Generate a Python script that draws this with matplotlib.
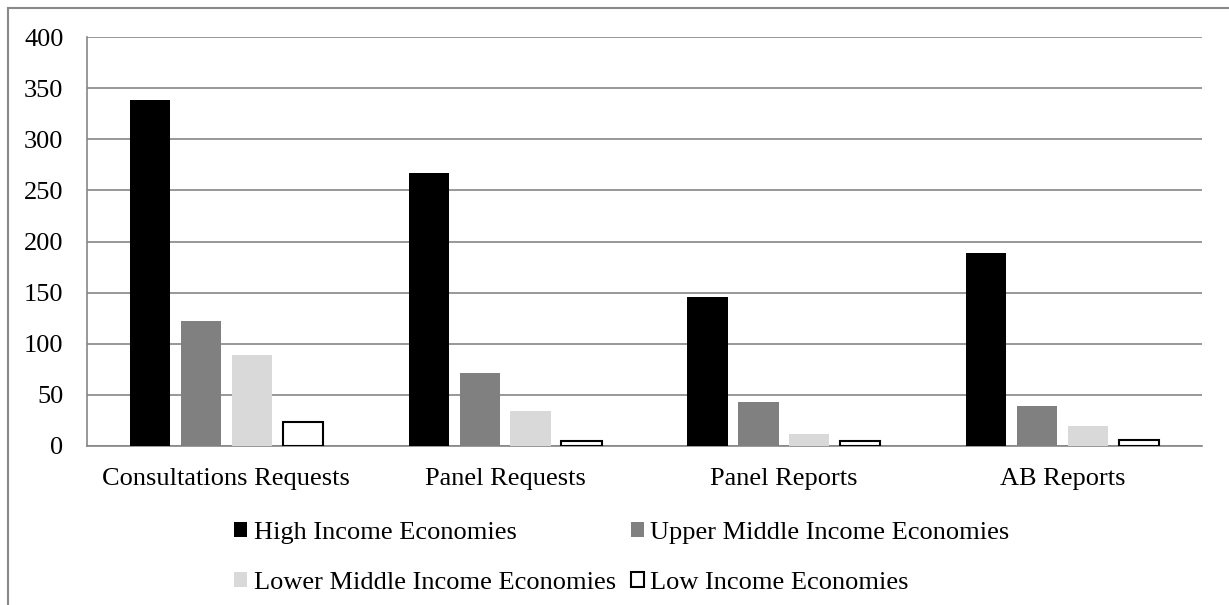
import matplotlib
matplotlib.use("Agg")
import matplotlib.pyplot as plt
from matplotlib.lines import Line2D
import numpy as np

categories = ["Consultations Requests", "Panel Requests", "Panel Reports", "AB Reports"]
series_names = ["High Income Economies", "Upper Middle Income Economies",
                "Lower Middle Income Economies", "Low Income Economies"]
high = [338, 267, 146, 189]
upper_middle = [122, 71, 43, 39]
lower_middle = [89, 34, 12, 20]
low = [23, 5, 5, 6]
y_ticks = [0, 50, 100, 150, 200, 250, 300, 350, 400]

series = [high, upper_middle, lower_middle, low]
faces = ["#000000", "#808080", "#d9d9d9", "#ffffff"]
edges = ["#000000", "#808080", "#d9d9d9", "#000000"]
lws = [0, 0, 0, 1.5]

plt.rcParams['font.family'] = ['Liberation Serif', 'DejaVu Serif']
FS = 19

W, H = 1229, 605
fig = plt.figure(figsize=(W / 100, H / 100), dpi=100)
ax = fig.add_axes([87 / W, 1 - 446 / H, (1202 - 87) / W, (446 - 37) / H])

x = np.arange(len(categories))
step = 0.1825
width = 0.144
handles = []
for i, (vals, fc, ec, lw) in enumerate(zip(series, faces, edges, lws)):
    b = ax.bar(x + (i - 1.5) * step, vals, width, color=fc, edgecolor=ec,
               linewidth=lw, label=series_names[i], zorder=3)
    handles.append(b)

ax.set_xlim(-0.5, len(categories) - 0.5)
ax.set_ylim(0, 400)
ax.set_yticks(y_ticks)
ax.set_xticks(x)
ax.set_xticklabels(categories)
ax.tick_params(axis='both', length=0, labelsize=FS, colors='black')
ax.tick_params(axis='y', pad=17)
ax.tick_params(axis='x', pad=16)
ax.grid(axis='y', color='#868686', linewidth=1.2, zorder=0)
for s in ['top', 'right']:
    ax.spines[s].set_visible(False)
for s in ['left', 'bottom']:
    ax.spines[s].set_color('#868686')
    ax.spines[s].set_linewidth(1.2)

order = [0, 2, 1, 3]
leg = fig.legend([handles[k] for k in order], [series_names[k] for k in order],
                 ncol=2, loc='center', bbox_to_anchor=(622 / W, 1 - 558 / H),
                 frameon=False, fontsize=FS, handlelength=0.5, handleheight=0.5,
                 handletextpad=0.25, columnspacing=0.55, labelspacing=1.05)

border_c = '#898989'
fig.add_artist(Line2D([7.5 / W, 7.5 / W], [0, 1 - 7.5 / H], transform=fig.transFigure,
                      color=border_c, linewidth=1.5))
fig.add_artist(Line2D([7.5 / W, 1], [1 - 7.5 / H, 1 - 7.5 / H], transform=fig.transFigure,
                      color=border_c, linewidth=1.5))

fig.savefig("out.png", dpi=100)
